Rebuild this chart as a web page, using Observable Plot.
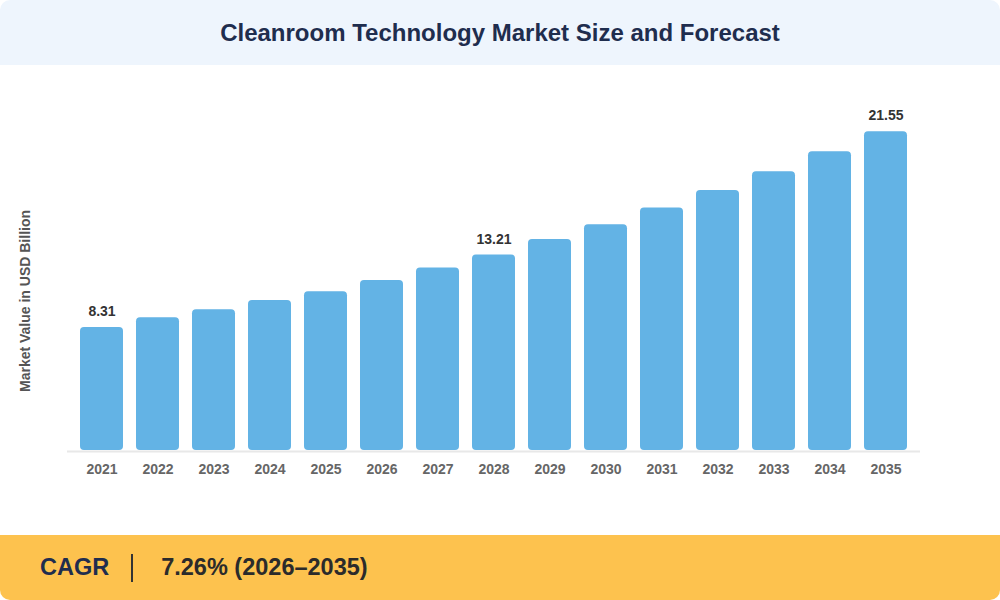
<!DOCTYPE html>
<html>
<head>
<meta charset="utf-8">
<script src="https://cdn.jsdelivr.net/npm/d3@7"></script>
<script src="https://cdn.jsdelivr.net/npm/@observablehq/plot@0.6"></script>
<style>
  html, body { margin: 0; padding: 0; background: #ffffff; }
  body { width: 1000px; height: 600px; overflow: hidden; font-family: "Liberation Sans", Arial, sans-serif; }
  #header { height: 65px; background: #eef5fd; border-radius: 10px 10px 0 0; display: flex; align-items: center; justify-content: center; }
  #header h1 { margin: 0; font-size: 24px; font-weight: bold; color: #1f2d4e; letter-spacing: 0; }
  #chart { height: 470px; }
  #footer { height: 65px; background: #fdc24e; border-radius: 0 0 10px 10px; display: flex; align-items: center; font-weight: bold; font-size: 23.5px; }
  #footer .k { margin-left: 40px; color: #1f2d4e; }
  #footer .sep { margin-left: 22px; width: 2px; height: 28px; background: #333; }
  #footer .v { margin-left: 28px; color: #2b2b2b; }
</style>
</head>
<body>
<div id="header"><h1>Cleanroom Technology Market Size and Forecast</h1></div>
<div id="chart"></div>
<div id="footer"><span class="k">CAGR</span><span class="sep"></span><span class="v">7.26% (2026–2035)</span></div>
<script>
const years = ["2021","2022","2023","2024","2025","2026","2027","2028","2029","2030","2031","2032","2033","2034","2035"];
const values = [8.31, 8.97, 9.51, 10.14, 10.74, 11.49, 12.34, 13.21, 14.26, 15.27, 16.40, 17.57, 18.85, 20.20, 21.55];
const labeledYears = ["2021", "2028", "2035"];
const yLabel = "Market Value in USD Billion";

const data = years.map((year, i) => ({year, value: values[i]}));
const labeled = data.filter(d => labeledYears.includes(d.year));

const chart = Plot.plot({
  width: 1000,
  height: 470,
  marginLeft: 67,
  marginRight: 80,
  marginTop: 30,
  marginBottom: 85,
  style: { fontFamily: "'Liberation Sans', Arial, sans-serif", background: "transparent" },
  x: { domain: years, padding: 0.23, label: null, tickSize: 0, tickPadding: 14 },
  y: { domain: [0, 24], axis: null },
  marks: [
    Plot.ruleY([0], { stroke: "#e8e8e8", strokeWidth: 2, dy: 1 }),
    Plot.barY(data, { x: "year", y: "value", fill: "#63b3e5", rx: 4 }),
    Plot.text(labeled, { x: "year", y: "value", text: d => d.value.toFixed(2), dy: -16, fontSize: 14, fontWeight: "bold", fill: "#333333" }),
    Plot.axisX({ tickSize: 0, tickPadding: 14, fontSize: 14, fontWeight: "bold", color: "#666666", label: null }),
    Plot.text([yLabel], { frameAnchor: "left", textAnchor: "middle", rotate: -90, dx: -42, dy: 28, fontSize: 14, fontWeight: "bold", fill: "#555555" })
  ]
});
document.getElementById("chart").appendChild(chart);
</script>
</body>
</html>
